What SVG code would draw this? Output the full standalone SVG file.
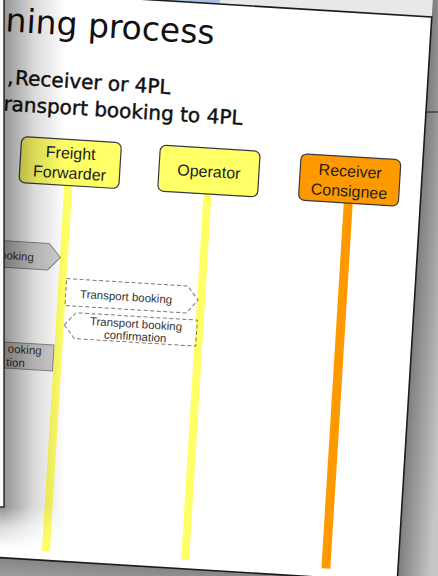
<svg xmlns="http://www.w3.org/2000/svg" width="438" height="576" viewBox="0 0 438 576">
<style>
.head{font-family:"DejaVu Sans","Liberation Sans",sans-serif;fill:#111}
.sub{stroke:#111;stroke-width:0.45}
.box{stroke:#3a3a3a;stroke-width:1.2}
.lbl{font-family:"Liberation Sans",Arial,sans-serif;font-size:16px;fill:#222;text-anchor:middle}
.msg{font-family:"Liberation Sans",Arial,sans-serif;font-size:11.5px;fill:#333;text-anchor:middle}
.dash{fill:none;stroke:#7a7a7a;stroke-width:1;stroke-dasharray:4 2.5}
.gray{fill:#cfcfcf;stroke:#8a8a8a;stroke-width:1}
</style>
<defs>
<linearGradient id="rightShade" gradientUnits="userSpaceOnUse" x1="432" y1="0" x2="465" y2="0">
<stop offset="0" stop-color="#7e7e7e"/><stop offset="1" stop-color="#c6c6c6"/>
</linearGradient>
<linearGradient id="bottomShade" gradientUnits="userSpaceOnUse" x1="0" y1="557" x2="0" y2="590">
<stop offset="0" stop-color="#858585"/><stop offset="1" stop-color="#b2b2b2"/>
</linearGradient>
<linearGradient id="hShade" gradientUnits="userSpaceOnUse" x1="4" y1="0" x2="66" y2="0">
<stop offset="0" stop-color="#000" stop-opacity="0.42"/><stop offset="0.5" stop-color="#000" stop-opacity="0.14"/><stop offset="1" stop-color="#000" stop-opacity="0"/>
</linearGradient>
<linearGradient id="vShade" gradientUnits="userSpaceOnUse" x1="0" y1="507" x2="0" y2="548">
<stop offset="0" stop-color="#000" stop-opacity="0.42"/><stop offset="0.5" stop-color="#000" stop-opacity="0.14"/><stop offset="1" stop-color="#000" stop-opacity="0"/>
</linearGradient>
<linearGradient id="hMaskGrad" gradientUnits="userSpaceOnUse" x1="4" y1="0" x2="66" y2="0">
<stop offset="0" stop-color="#fff"/><stop offset="0.5" stop-color="#555"/><stop offset="1" stop-color="#000"/>
</linearGradient>
<mask id="cornerMask" maskUnits="userSpaceOnUse" x="-20" y="500" width="100" height="60">
<rect x="-20" y="500" width="100" height="60" fill="url(#hMaskGrad)"/>
</mask>
</defs>

<rect x="0" y="0" width="438" height="576" fill="#e8e8e8"/>
<rect x="150" y="0" width="70" height="8" fill="#a6c0e4"/>

<g transform="rotate(3.5)">
  <rect x="432" y="-60" width="70" height="700" fill="url(#rightShade)"/>
  <rect x="-400" y="556.5" width="900" height="80" fill="url(#bottomShade)"/>
  <rect id="slide" x="-330" y="-9.4" width="762" height="566" fill="#fff" stroke="#1c1c1c" stroke-width="1.6"/>

  <text class="head" x="7" y="31" font-size="33">ning process</text>
  <text class="head sub" y="83.5" font-size="20"><tspan x="12">, </tspan><tspan x="20">Receiver or 4PL</tspan></text>
  <text class="head sub" x="9.9" y="110" font-size="20">ransport booking to 4PL</text>

  <g id="connectors">
    <line x1="79.5" y1="181" x2="79.5" y2="547.5" stroke="#ffff66" stroke-width="8"/>
    <line x1="219" y1="181" x2="219" y2="547.5" stroke="#ffff66" stroke-width="8"/>
    <line x1="360" y1="181" x2="360" y2="547.5" stroke="#ff9900" stroke-width="9"/>
  </g>

  <g id="freight-forwarder">
    <rect class="box" x="30" y="135" width="100" height="46" rx="6" fill="#ffff66"/>
    <text class="lbl" x="80" y="154">Freight</text>
    <text class="lbl" x="80" y="174">Forwarder</text>
  </g>
  <g id="operator">
    <rect class="box" x="169" y="135" width="100" height="46" rx="6" fill="#ffff66"/>
    <text class="lbl" x="219" y="164">Operator</text>
  </g>
  <g id="receiver-consignee">
    <rect class="box" x="310" y="135" width="100" height="46.5" rx="6" fill="#ff9900"/>
    <text class="lbl" x="360" y="155">Receiver</text>
    <text class="lbl" x="360" y="175">Consignee</text>
  </g>

  <g id="msg-left-booking">
    <polygon class="gray" points="-60,240 64,240 76,253.3 64,266.5 -60,266.5"/>
    <text class="msg" x="49.5" y="258.5" style="text-anchor:end">ooking</text>
  </g>
  <g id="msg-left-confirmation">
    <polygon class="gray" points="75,341 -46,341 -57,354 -46,367 75,367"/>
    <text class="msg" x="63" y="351.5" style="text-anchor:end">ooking</text>
    <text class="msg" x="47" y="365" style="text-anchor:end">tion</text>
  </g>
  <g id="msg-transport-booking">
    <polygon class="dash" points="83.5,274 205,274 216,287.5 205,301 83.5,301"/>
    <text class="msg" x="144" y="292.5">Transport booking</text>
  </g>
  <g id="msg-transport-booking-confirmation">
    <polygon class="dash" points="84,320.5 95,307.5 216.5,307.5 216.5,333.5 95,333.5"/>
    <text class="msg" x="155.5" y="319">Transport booking</text>
    <text class="msg" x="155.5" y="331.5">confirmation</text>
  </g>
</g>

<line x1="426" y1="112" x2="438" y2="112" stroke="#333" stroke-width="1.3"/>

<rect x="4" y="-10" width="62" height="517" fill="url(#hShade)"/>
<rect x="-20" y="507" width="86" height="42" fill="url(#vShade)" mask="url(#cornerMask)"/>
<rect id="left-window" x="-20" y="-20" width="24" height="527" fill="#fbfbfb" stroke="#111" stroke-width="1.3"/>
</svg>
